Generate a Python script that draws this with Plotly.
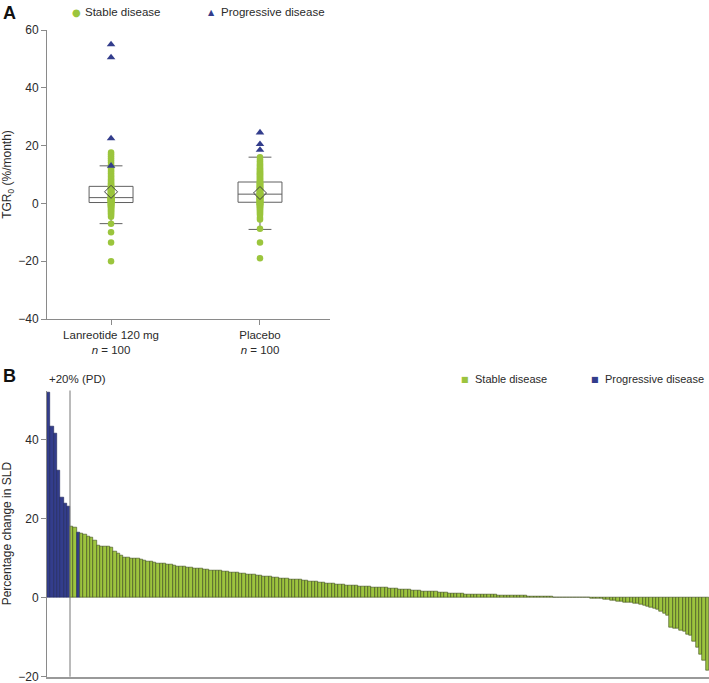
import plotly.graph_objects as go

# ---------------- Panel A data ----------------
groups = ["Lanreotide 120 mg", "Placebo"]
group_labels = ["Lanreotide 120 mg<br><i>n</i> = 100", "Placebo<br><i>n</i> = 100"]

lan_stable = [-20, -13.5, -10, -7, -4.6, -4.0, -3.6, -3.2, -2.8, -2.5, -2.2, -1.9, -1.6, -1.4, -1.2,
              -1.0, -0.8, -0.6, -0.5, -0.4, -0.3, -0.1, 0.0, 0.1, 0.3,
              0.4, 0.5, 0.5, 0.6, 0.7, 0.8, 0.8, 0.9, 1.0, 1.0, 1.1, 1.2, 1.2, 1.3, 1.4, 1.4, 1.5,
              1.6, 1.6, 1.7, 1.8, 1.8, 1.9, 1.9, 2.0,
              2.1, 2.3, 2.4, 2.6, 2.7, 2.9, 3.0, 3.2, 3.3, 3.5, 3.6, 3.8, 3.9, 4.1, 4.2, 4.4, 4.5,
              4.7, 4.8, 5.0, 5.2, 5.3, 5.5, 5.7, 5.9,
              6.2, 6.6, 7.0, 7.4, 7.8, 8.3, 8.8, 9.3, 9.8, 10.4, 11.0, 11.6, 12.2, 12.8, 13.5, 14.2,
              14.9, 15.6, 16.3, 17.0, 17.6]
lan_progressive = [55.0, 50.5, 22.5, 13.0]

pla_stable = [-19, -13.5, -8.8, -5.6, -5.0, -4.0, -3.5, -3.0, -2.6, -2.2, -1.9, -1.6, -1.3, -1.1, -0.9,
              -0.7, -0.5, -0.4, -0.3, -0.2, -0.1, 0.0, 0.1, 0.2, 0.4,
              0.5, 0.6, 0.7, 0.8, 0.9, 1.0, 1.1, 1.3, 1.4, 1.5, 1.6, 1.7, 1.8, 1.9, 2.0, 2.1, 2.2,
              2.3, 2.4, 2.5, 2.6, 2.8, 2.9, 3.0, 3.2,
              3.3, 3.5, 3.6, 3.8, 3.9, 4.1, 4.3, 4.4, 4.6, 4.8, 4.9, 5.1, 5.3, 5.4, 5.6, 5.8, 5.9,
              6.1, 6.3, 6.5, 6.7, 6.8, 7.0, 7.2, 7.4,
              7.7, 8.0, 8.3, 8.6, 8.9, 9.2, 9.5, 9.8, 10.1, 10.4, 10.7, 11.0, 11.4, 11.8, 12.2, 12.6,
              13.0, 13.5, 14.0, 14.6, 15.2, 16.0]
pla_progressive = [24.5, 20.5, 18.5]

box_q1 = [0.3, 0.4]
box_median = [2.0, 3.2]
box_q3 = [5.9, 7.4]
box_lower = [-7.0, -9.0]
box_upper = [13.0, 16.0]
box_mean = [4.0, 3.6]

# ---------------- Panel B data ----------------
sld_change = [
    51.9, 43.3, 41.5, 32.3, 25.5, 24.0, 23.2, 18.0, 17.8, 16.6,
    16.4, 16.1, 15.4, 15.3, 14.6, 13.3, 13.1, 13.0, 12.9, 12.8,
    11.6, 11.3, 10.7, 10.3, 10.1, 10.0, 9.9, 9.9, 9.7, 9.5,
    9.3, 9.1, 8.9, 8.8, 8.7, 8.6, 8.5, 8.3, 8.1, 8.0,
    7.9, 7.8, 7.7, 7.6, 7.5, 7.4, 7.3, 7.2, 7.1, 7.0,
    6.9, 6.8, 6.8, 6.7, 6.6, 6.5, 6.4, 6.3, 6.2, 6.1,
    6.0, 5.9, 5.8, 5.7, 5.6, 5.5, 5.4, 5.3, 5.2, 5.1,
    5.0, 4.9, 4.8, 4.7, 4.7, 4.6, 4.5, 4.4, 4.3, 4.2,
    4.1, 4.0, 3.9, 3.8, 3.7, 3.6, 3.5, 3.4, 3.3, 3.3,
    3.2, 3.1, 3.0, 3.0, 2.9, 2.9, 2.8, 2.8, 2.7, 2.7,
    2.6, 2.5, 2.5, 2.4, 2.3, 2.3, 2.2, 2.1, 2.1, 2.0,
    1.9, 1.9, 1.8, 1.7, 1.7, 1.6, 1.5, 1.5, 1.4, 1.4,
    1.3, 1.2, 1.2, 1.1, 1.0, 1.0, 0.95, 0.9, 0.9, 0.85,
    0.8, 0.8, 0.75, 0.75, 0.7, 0.7, 0.65, 0.65, 0.6, 0.6,
    0.55, 0.5, 0.5, 0.45, 0.45, 0.4, 0.4, 0.35, 0.3, 0.3,
    0.25, 0.2, 0.2, 0.15, 0.1, 0.08, 0.06, 0.05, 0.04, 0.03,
    0.02, 0.01, 0.0, 0.0, -0.2, -0.25, -0.3, -0.3, -0.35, -0.4,
    -0.7, -0.8, -0.9, -1.0, -1.1, -1.2, -1.3, -1.4, -1.5, -1.7,
    -1.9, -2.1, -2.4, -2.7, -3.0, -3.5, -4.0, -4.5, -7.6, -7.7,
    -7.9, -8.3, -8.6, -9.2, -9.6, -11.0, -12.6, -14.3, -16.0, -18.5,
]
progressive_idx = [0, 1, 2, 3, 4, 5, 6, 9]
pd_threshold_count = 7  # bars above +20%

GREEN = "#9BC53D"
GREEN_BAR = "#9CC43E"
GREEN_EDGE = "#3c4a1c"
BLUE = "#333D8C"
BLUE_EDGE = "#1c2358"
AXIS = "#8a8a8a"
TXT = "#2a2a2a"
FONT = "Liberation Sans, Arial, sans-serif"

W, H = 709, 683
def px(x): return x / W
def py(y): return 1 - y / H

fig = go.Figure()

# boxes
for i, g in enumerate(groups):
    fig.add_trace(go.Box(
        x=[i], q1=[box_q1[i]], median=[box_median[i]], q3=[box_q3[i]],
        lowerfence=[box_lower[i]], upperfence=[box_upper[i]],
        width=0.295, whiskerwidth=0.52, fillcolor="white", name=g,
        line=dict(color="#606060", width=1), boxpoints=False,
        showlegend=False, xaxis="x", yaxis="y", hoverinfo="skip"))

# points
fig.add_trace(go.Scatter(x=[0] * len(lan_stable), y=lan_stable, mode="markers",
                         marker=dict(color=GREEN, size=6.5, symbol="circle"),
                         name="Stable disease", showlegend=False, xaxis="x", yaxis="y"))
fig.add_trace(go.Scatter(x=[1] * len(pla_stable), y=pla_stable, mode="markers",
                         marker=dict(color=GREEN, size=6.5, symbol="circle"),
                         name="Stable disease", showlegend=False, xaxis="x", yaxis="y"))
fig.add_trace(go.Scatter(x=[0] * len(lan_progressive) + [1] * len(pla_progressive),
                         y=lan_progressive + pla_progressive, mode="markers",
                         marker=dict(color=BLUE, size=7.5, symbol="triangle-up"),
                         name="Progressive disease", showlegend=False, xaxis="x", yaxis="y"))
fig.add_trace(go.Scatter(x=[0, 1], y=box_mean, mode="markers", name="Mean",
                         marker=dict(color="#404040", size=10, symbol="diamond-open",
                                     line=dict(width=1)),
                         showlegend=False, xaxis="x", yaxis="y", hoverinfo="skip"))

# waterfall bars
idx = list(range(len(sld_change)))
colors = [BLUE if i in progressive_idx else GREEN_BAR for i in idx]
edges = [BLUE_EDGE if i in progressive_idx else GREEN_EDGE for i in idx]
fig.add_trace(go.Bar(x=idx, y=sld_change, marker=dict(color=colors, line=dict(color=edges, width=0.6)),
                     width=1.0, showlegend=False, xaxis="x2", yaxis="y2", name="SLD change"))

tickfont = dict(family=FONT, size=12, color=TXT)
fig.update_layout(
    width=W, height=H, margin=dict(l=0, r=0, t=0, b=0, autoexpand=False),
    paper_bgcolor="white", plot_bgcolor="white",
    font=dict(family=FONT, size=12, color=TXT),
    bargap=0,
    xaxis=dict(domain=[px(47), px(330)], range=[-0.43, 1.47], tickvals=[0, 1], ticktext=group_labels,
               showline=True, linecolor=AXIS, linewidth=1, ticks="outside", ticklen=5, tickcolor=AXIS,
               showgrid=False, zeroline=False, tickfont=dict(family=FONT, size=11.5, color=TXT),
               anchor="y", fixedrange=True, automargin=False, ticklabeloverflow="allow"),
    yaxis=dict(domain=[py(319), py(30)], range=[-40, 60], tickvals=[-40, -20, 0, 20, 40, 60],
               showline=True, linecolor=AXIS, linewidth=1, ticks="outside", ticklen=5, tickcolor=AXIS,
               showgrid=False, zeroline=False, tickfont=tickfont, anchor="x", automargin=False,
               ticklabeloverflow="allow",
               title=dict(text="TGR<sub>0</sub> (%/month)", font=dict(family=FONT, size=12, color=TXT),
                          standoff=6)),
    xaxis2=dict(domain=[px(47), 1.0], range=[-0.5, len(sld_change) - 0.5], showticklabels=False,
                showline=True, linecolor="#999999", linewidth=2, ticks="", showgrid=False,
                zeroline=False, anchor="y2", automargin=False),
    yaxis2=dict(domain=[py(676.7), py(390.5)], range=[-20, 52.5], tickvals=[-20, 0, 20, 40],
                showline=True, linecolor=AXIS, linewidth=1, ticks="outside", ticklen=5, tickcolor=AXIS,
                showgrid=False, zeroline=False, tickfont=tickfont, anchor="x2", automargin=False,
                ticklabeloverflow="allow",
                title=dict(text="Percentage change in SLD", font=dict(family=FONT, size=12, color=TXT),
                           standoff=5)),
)

# PD threshold line
fig.add_shape(type="line", xref="x2", yref="y2 domain", x0=pd_threshold_count - 0.55,
              x1=pd_threshold_count - 0.55, y0=0, y1=1, line=dict(color="#777777", width=1))

ann = []
def text(x, y, s, size=11, color=TXT, anchor="left", bold=False, family=FONT):
    ann.append(dict(x=px(x), y=py(y), xref="paper", yref="paper", text=("<b>%s</b>" % s) if bold else s,
                    showarrow=False, xanchor=anchor, yanchor="middle",
                    font=dict(family=family, size=size, color=color)))

text(9, 13, "A", size=18, anchor="center", bold=True, color="#111111")
text(9, 376, "B", size=18, anchor="center", bold=True, color="#111111")
# legend A
text(76, 12, "●", size=10, color=GREEN, anchor="center", family="DejaVu Sans")
text(83, 12, "Stable disease", size=11.5)
text(211, 12, "▲", size=8, color=BLUE, anchor="center", family="DejaVu Sans")
text(219, 12, "Progressive disease", size=11.5)
# legend B
text(464.7, 379, "■", size=8, color=GREEN_BAR, anchor="center", family="DejaVu Sans")
text(472.7, 379, "Stable disease", size=11)
text(595, 379, "■", size=8, color=BLUE, anchor="center", family="DejaVu Sans")
text(603.3, 379, "Progressive disease", size=11)
# PD label
text(47, 379, "+20% (PD)", size=11.5)
fig.update_layout(annotations=ann)

fig.write_html("out.html", config={"displayModeBar": False},
               post_script="document.body.style.margin='0';document.body.style.overflow='hidden';")
